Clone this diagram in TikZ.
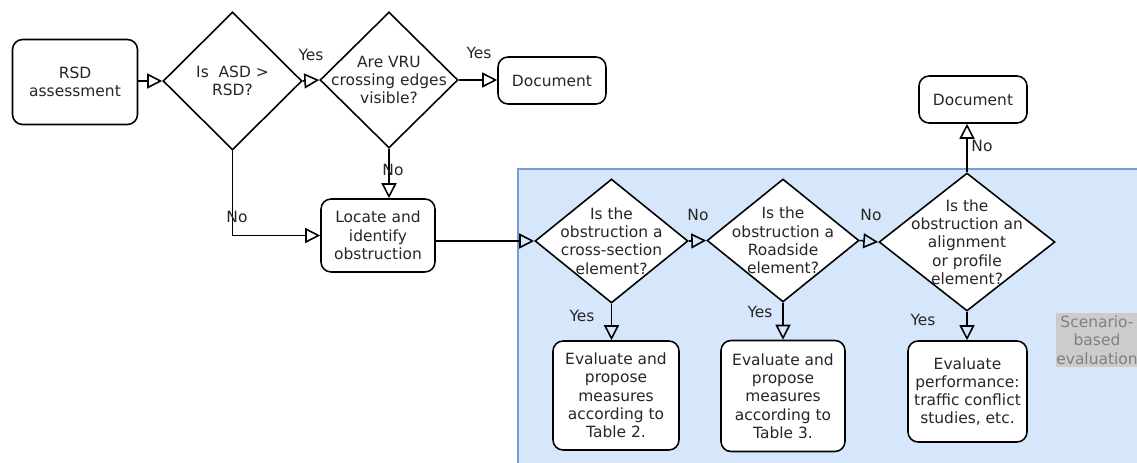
\documentclass[tikz,border=0pt]{standalone}
\usepackage{fontspec}
\setmainfont{DejaVu Sans}
\usetikzlibrary{shapes.geometric,arrows.meta}
\definecolor{areablue}{RGB}{214,230,251}
\definecolor{areaedge}{RGB}{120,156,214}
\definecolor{tagfill}{RGB}{204,204,204}
\definecolor{tagtext}{RGB}{128,128,128}
\tikzset{
  every node/.style={font=\fontsize{8.8}{10.4}\selectfont, align=center, text=black!85},
  box/.style={draw, rounded corners=0.2cm, line width=0.9pt, fill=white, inner sep=0pt},
  dia/.style={draw, diamond, line width=0.9pt, fill=white, inner sep=0pt},
  flow/.style={line width=0.9pt, -{Triangle[open,length=0.3cm,width=0.3cm]}},
}
\begin{document}
\begin{tikzpicture}[x=0.02cm, y=-0.02cm]
  \useasboundingbox[fill=white] (0,0) rectangle (1137,463);
  % scenario area
  \draw[fill=areablue, draw=areaedge, line width=0.6pt] (518,169) rectangle (1150,475);

  % first row
  \node[box, minimum width=2.5cm, minimum height=1.7cm] (rsd) at (75,82) {RSD\\assessment};
  \node[dia, minimum width=2.78cm, minimum height=2.76cm] (asd) at (232.5,81) {};
  \node (asdtext) at (asd) {Is\ \ ASD >\\RSD?};
  \node[dia, minimum width=2.76cm, minimum height=2.72cm] (vru) at (389,80) {};
  \node (vrutext) at (vru) {Are VRU\\crossing edges\\visible?};
  \node[box, minimum width=2.16cm, minimum height=0.94cm] (doc) at (552,80.5) {Document};
  \node[box, minimum width=2.28cm, minimum height=1.46cm] (locate) at (378,235.5) {Locate and\\identify\\obstruction};

  % decisions in the area
  \node[dia, minimum width=3.06cm, minimum height=2.48cm] (cross) at (611.5,241) {};
  \node (crosstext) at (cross) {Is the\\obstruction a\\cross-section\\element?};
  \node[dia, minimum width=3.04cm, minimum height=2.46cm] (road) at (783,240.5) {};
  \node (roadtext) at (road) {Is the\\obstruction a\\Roadside\\element?};
  \node[dia, minimum width=3.52cm, minimum height=2.76cm] (align) at (967,242) {};
  \node (aligntext) at (align) {Is the\\obstruction an\\alignment\\or profile\\element?};
  \node[box, minimum width=2.16cm, minimum height=0.94cm] (doctwo) at (973,99.5) {Document};

  \node[box, minimum width=2.52cm, minimum height=2.18cm] (evcross) at (616,395.5) {Evaluate and\\propose\\measures\\according to\\Table 2.};
  \node[box, minimum width=2.48cm, minimum height=2.22cm] (evroad) at (783,396) {Evaluate and\\propose\\measures\\according to\\Table 3.};
  \node[box, minimum width=2.38cm, minimum height=2.02cm] (evalign) at (967.5,391.5) {Evaluate\\performance:\\traffic conflict\\studies, etc.};

  \node[fill=tagfill, text=tagtext, inner sep=0pt, minimum width=1.62cm, minimum height=1.08cm] (tag) at (1097,340) {Scenario-\\based\\evaluation};

  % connectors
  \draw[flow] (rsd.east |- asd.west) -- (asd.west);
  \draw[flow] (asd.east) -- (vru.west);
  \draw[flow] (vru.east) -- (doc.west |- vru.east);
  \draw[flow] (asd.south) |- (locate.west);
  \draw[flow] (vru.south) -- (vru.south |- locate.north);
  \draw[flow] (locate.east |- cross.west) -- (cross.west);
  \draw[flow] (cross.east) -- (road.west);
  \draw[flow] (road.east) -- (align.west);
  \draw[flow] (align.north) -- (align.north |- doctwo.south);
  \draw[flow] (cross.south) -- (cross.south |- evcross.north);
  \draw[flow] (road.south) -- (road.south |- evroad.north);
  \draw[flow] (align.south) -- (align.south |- evalign.north);

  % labels
  \node (yesone) at (311,55) {Yes};
  \node (yestwo) at (479,53) {Yes};
  \node (noone) at (237,217) {No};
  \node (notwo) at (393,170) {No};
  \node (nothree) at (698,215) {No};
  \node (nofour) at (871,215) {No};
  \node (nofive) at (982,146) {No};
  \node (yesthree) at (582,316) {Yes};
  \node (yesfour) at (760,312) {Yes};
  \node (yesfive) at (923,320) {Yes};
\end{tikzpicture}
\end{document}
